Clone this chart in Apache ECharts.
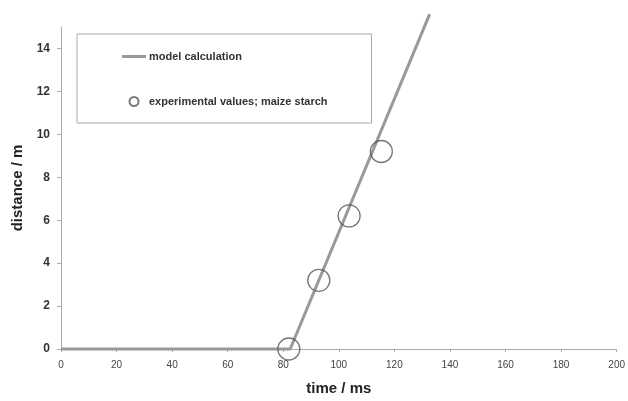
<!DOCTYPE html>
<html>
<head>
<meta charset="utf-8">
<script src="https://cdn.jsdelivr.net/npm/echarts@6/dist/echarts.min.js"></script>
<style>
  html, body { margin: 0; padding: 0; background: #fff; }
  #chart { width: 628px; height: 401px; }
</style>
</head>
<body>
<div id="chart"></div>
<script>
// model curve: flat until ignition, then linear rise
const modelTime = [0, 82.5, 132.7];
const modelDistance = [0, 0, 15.6];

// measured points, maize starch
const expTime = [82.0, 92.8, 103.7, 115.3];
const expDistance = [0, 3.2, 6.2, 9.2];

const xTicks = { min: 0, max: 200, interval: 20 };
const yTicks = { min: 0, max: 15, interval: 2 };

const font = "Liberation Sans, Arial, sans-serif";

let chart = echarts.init(document.getElementById("chart"));
chart.setOption({
  animation: false,
  backgroundColor: "#fff",
  grid: { left: 61, right: 11, top: 27, bottom: 50 },
  legend: {
    orient: "vertical",
    left: 77,
    top: 34,
    padding: [17, 44, 16, 45],
    itemGap: 34,
    itemWidth: 24,
    itemHeight: 9,
    symbolKeepAspect: true,
    borderColor: "#aaa",
    borderWidth: 1,
    textStyle: { fontFamily: font, fontSize: 11, fontWeight: "bold", color: "#333", padding: [0, 0, 0, -2] },
    data: [
      { name: "model calculation", icon: "path://M0,0 L24,0 L24,3 L0,3 Z" },
      { name: "experimental values; maize starch" },
    ],
  },
  xAxis: {
    type: "value",
    min: xTicks.min,
    max: xTicks.max,
    interval: xTicks.interval,
    name: "time / ms",
    nameLocation: "middle",
    nameGap: 32,
    nameTextStyle: { fontFamily: font, fontSize: 15, fontWeight: "bold", color: "#222" },
    axisLine: { lineStyle: { color: "#aaa" } },
    axisTick: { length: 3, lineStyle: { color: "#aaa" } },
    axisLabel: { margin: 11, fontFamily: font, fontSize: 10, color: "#444" },
    splitLine: { show: false },
  },
  yAxis: {
    type: "value",
    min: yTicks.min,
    max: yTicks.max,
    interval: yTicks.interval,
    name: "distance / m",
    nameLocation: "middle",
    nameGap: 33,
    nameTextStyle: { fontFamily: font, fontSize: 15, fontWeight: "bold", color: "#222" },
    axisLine: { show: true, lineStyle: { color: "#aaa" } },
    axisTick: { show: true, length: 4, lineStyle: { color: "#aaa" } },
    axisLabel: { margin: 11, showMaxLabel: false, fontFamily: font, fontSize: 12, fontWeight: "bold", color: "#333" },
    splitLine: { show: false },
  },
  series: [
    {
      name: "model calculation",
      type: "line",
      symbol: "none",
      clip: false,
      lineStyle: { color: "#999", width: 3 },
      itemStyle: { color: "#999" },
      data: modelTime.map((t, i) => [t, modelDistance[i]]),
      z: 2,
    },
    {
      name: "experimental values; maize starch",
      type: "scatter",
      symbol: "circle",
      symbolSize: 22,
      itemStyle: { color: "rgba(0,0,0,0)", borderColor: "#555", borderWidth: 1.3 },
      data: expTime.map((t, i) => [t, expDistance[i]]),
      z: 3,
    },
  ],
});
</script>
</body>
</html>
